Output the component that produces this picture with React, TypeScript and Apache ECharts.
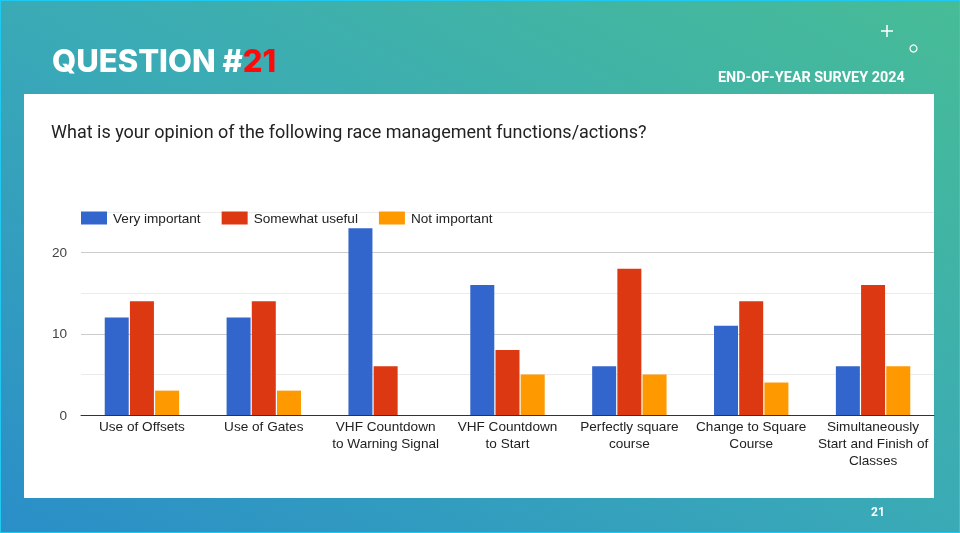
import React, { useEffect, useRef } from "react";
import * as echarts from "echarts";

const categories = [
  "Use of Offsets",
  "Use of Gates",
  "VHF Countdown\nto Warning Signal",
  "VHF Countdown\nto Start",
  "Perfectly square\ncourse",
  "Change to Square\nCourse",
  "Simultaneously\nStart and Finish of\nClasses",
];
const seriesNames = ["Very important", "Somewhat useful", "Not important"];
const veryImportant = [12, 12, 23, 16, 6, 11, 6];
const somewhatUseful = [14, 14, 6, 8, 18, 14, 16];
const notImportant = [3, 3, 0, 5, 5, 4, 6];
const yTickLabels = [0, 10, 20];
const colors = ["#3366cc", "#dc3912", "#ff9900"];

const ARIAL = "'Liberation Sans', Arial, sans-serif";

export default function App() {
  const ref = useRef<HTMLDivElement>(null);
  useEffect(() => {
    if (!ref.current) return;
    const chart = echarts.init(ref.current, undefined, { renderer: "svg" });
    const values = [veryImportant, somewhatUseful, notImportant];
    chart.setOption({
      animation: false,
      textStyle: { fontFamily: ARIAL },
      graphic: [
        {
          type: "rect",
          z: -10,
          shape: { x: 0, y: 0, width: 960, height: 533 },
          style: {
            fill: new echarts.graphic.LinearGradient(0, 1, 1, 0, [
              { offset: 0, color: "#2a8ec8" },
              { offset: 0.5, color: "#3aaab6" },
              { offset: 1, color: "#47bc96" },
            ]),
            stroke: "#1fc9f2",
            lineWidth: 2,
          },
        },
        {
          type: "rect",
          z: -9,
          shape: { x: 24, y: 94, width: 910, height: 404 },
          style: { fill: "#ffffff" },
        },
        {
          type: "text",
          z: 5,
          x: 52,
          y: 45,
          style: {
            text: "{w|QUESTION #}{r|21}",
            rich: {
              w: { fill: "#ffffff", fontSize: 31, fontWeight: 800, fontFamily: "Inter, Roboto, sans-serif" },
              r: { fill: "#ff0a0a", fontSize: 31, fontWeight: 800, fontFamily: "Inter, Roboto, sans-serif" },
            },
          },
        },
        {
          type: "text",
          z: 5,
          x: 718,
          y: 70,
          style: {
            text: "END-OF-YEAR SURVEY 2024",
            fill: "#ffffff",
            fontSize: 14.4,
            fontWeight: 700,
            fontFamily: "Roboto, sans-serif",
          },
        },
        {
          type: "line",
          z: 5,
          shape: { x1: 881, y1: 31, x2: 893, y2: 31 },
          style: { stroke: "#ffffff", lineWidth: 1.5 },
        },
        {
          type: "line",
          z: 5,
          shape: { x1: 887, y1: 25, x2: 887, y2: 37 },
          style: { stroke: "#ffffff", lineWidth: 1.5 },
        },
        {
          type: "circle",
          z: 5,
          shape: { cx: 913.5, cy: 48.5, r: 3.5 },
          style: { fill: "none", stroke: "#ffffff", lineWidth: 1.2 },
        },
        {
          type: "text",
          z: 5,
          x: 871,
          y: 506,
          style: { text: "21", fill: "#ffffff", fontSize: 12, fontWeight: 700, fontFamily: "Roboto, sans-serif" },
        },
        {
          type: "text",
          z: 5,
          x: 51,
          y: 122,
          style: {
            text: "What is your opinion of the following race management functions/actions?",
            fill: "#222222",
            fontSize: 18,
            fontFamily: "Roboto, sans-serif",
          },
        },
      ],
      legend: {
        left: 76,
        top: 206,
        itemWidth: 26,
        itemHeight: 13,
        itemGap: 21,
        icon: "rect",
        textStyle: { fontSize: 13.6, color: "#222222", fontFamily: ARIAL, padding: [0, 0, 0, 1] },
        data: seriesNames,
      },
      grid: { left: 81, right: 26, top: 212, bottom: 118, containLabel: false },
      xAxis: {
        type: "category",
        data: categories,
        axisLine: { lineStyle: { color: "#333333", width: 1 } },
        axisTick: { show: false },
        axisLabel: {
          interval: 0,
          fontSize: 13.6,
          color: "#222222",
          lineHeight: 17,
          margin: 3,
          verticalAlign: "top",
          fontFamily: ARIAL,
        },
      },
      yAxis: {
        type: "value",
        min: 0,
        max: 25,
        interval: 5,
        axisLine: { show: false },
        axisTick: { show: false },
        axisLabel: {
          fontSize: 13.6,
          color: "#444444",
          margin: 14,
          fontFamily: ARIAL,
          formatter: (v: number) => (yTickLabels.includes(v) ? String(v) : ""),
        },
        splitLine: { lineStyle: { color: ["#cccccc", "#ebebeb"], width: 1 } },
      },
      series: seriesNames.map((name, i) => ({
        name,
        type: "bar",
        data: values[i],
        barWidth: 24,
        barGap: "5%",
        itemStyle: { color: colors[i] },
      })),
    });
    return () => chart.dispose();
  }, []);
  return (
    <div
      ref={ref}
      style={{ position: "fixed", left: 0, top: 0, width: 960, height: 533 }}
    />
  );
}
